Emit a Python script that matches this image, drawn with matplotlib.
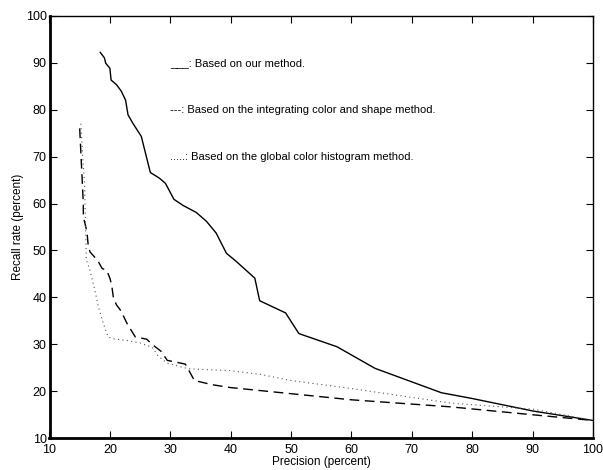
import matplotlib
matplotlib.use("Agg")
import matplotlib.pyplot as plt

plt.rcParams['font.family'] = ['Liberation Sans', 'DejaVu Sans']

# solid: our method
ours_p = [18.4, 19.1, 19.3, 20.0, 20.2, 21.1, 21.9, 22.6, 23.0, 23.8, 25.2, 25.9,
          26.7, 28.2, 29.2, 30.6, 32.1, 34.3, 36.0, 37.6, 39.3, 40.9, 44.0, 44.8,
          49.1, 51.3, 57.6, 63.9, 74.9, 79.9, 90.1, 100.0]
ours_r = [92.2, 91.0, 89.9, 88.8, 86.3, 85.3, 83.9, 82.0, 78.9, 77.1, 74.3, 70.7,
          66.6, 65.4, 64.3, 60.9, 59.6, 58.1, 56.2, 53.7, 49.4, 47.7, 44.1, 39.3,
          36.7, 32.3, 29.5, 24.9, 19.7, 18.5, 15.8, 13.8]

# dashed: integrating color and shape
shape_p = [15.0, 15.3, 15.6, 15.6, 16.2, 16.4, 16.7, 17.4, 18.1, 18.7, 19.5, 20.0,
           20.3, 20.6, 21.1, 21.8, 22.9, 24.2, 26.1, 27.0, 28.5, 29.5, 32.5, 34.0,
           37.0, 40.0, 50.0, 60.0, 76.4, 90.1, 100.0]
shape_r = [76.0, 68.0, 60.0, 57.2, 54.0, 51.2, 49.7, 48.7, 47.6, 46.2, 45.7, 44.1,
           42.6, 39.8, 38.4, 37.2, 34.3, 31.6, 31.1, 30.0, 28.5, 26.6, 25.8, 22.3,
           21.4, 20.8, 19.5, 18.2, 16.7, 15.0, 13.8]

# dotted: global color histogram
hist_p = [15.2, 15.5, 15.8, 15.9, 16.1, 16.7, 17.5, 18.1, 18.9, 19.7, 20.5, 22.5,
          25.0, 27.0, 28.0, 29.5, 33.0, 40.0, 45.0, 50.0, 60.0, 76.4, 90.1, 100.0]
hist_r = [77.0, 70.0, 64.3, 59.3, 48.0, 45.8, 41.6, 38.0, 34.5, 31.6, 31.2, 30.9,
          30.3, 29.4, 27.5, 26.0, 24.8, 24.4, 23.6, 22.3, 20.6, 17.5, 16.2, 13.8]

notes = ["___: Based on our method.",
         "---: Based on the integrating color and shape method.",
         ".....: Based on the global color histogram method."]
note_y = [90, 80, 70]

fig = plt.figure(figsize=(6.03, 4.70), dpi=100)
ax = fig.add_axes([49.5/603, 1 - 438.3/470, (593 - 49.5)/603, (438.3 - 15.7)/470])

ax.plot(ours_p, ours_r, color='black', lw=1.0, ls='-')
ax.plot(shape_p, shape_r, color='black', lw=1.0, ls=(0, (7, 4)))
ax.plot(hist_p, hist_r, color='#555555', lw=0.8, ls=(0, (1, 3)))

for t, y in zip(notes, note_y):
    ax.text(30, y, t, fontsize=8, va='center', ha='left')

ax.set_xlim(10, 100)
ax.set_ylim(10, 100)
ax.set_xticks(range(10, 101, 10))
ax.set_yticks(range(10, 101, 10))
ax.tick_params(direction='in', top=True, right=True, length=5, width=0.8,
               labelsize=9, pad=2)
ax.tick_params(axis='x', pad=4)
ax.spines['left'].set_linewidth(2)
ax.spines['bottom'].set_linewidth(2)
ax.spines['top'].set_linewidth(1)
ax.spines['right'].set_linewidth(1)
ax.set_xlabel('Precision (percent)', fontsize=8.5, labelpad=0)
ax.set_ylabel('Recall rate (percent)', fontsize=8.5, labelpad=1)

fig.savefig('out.png', dpi=100)
